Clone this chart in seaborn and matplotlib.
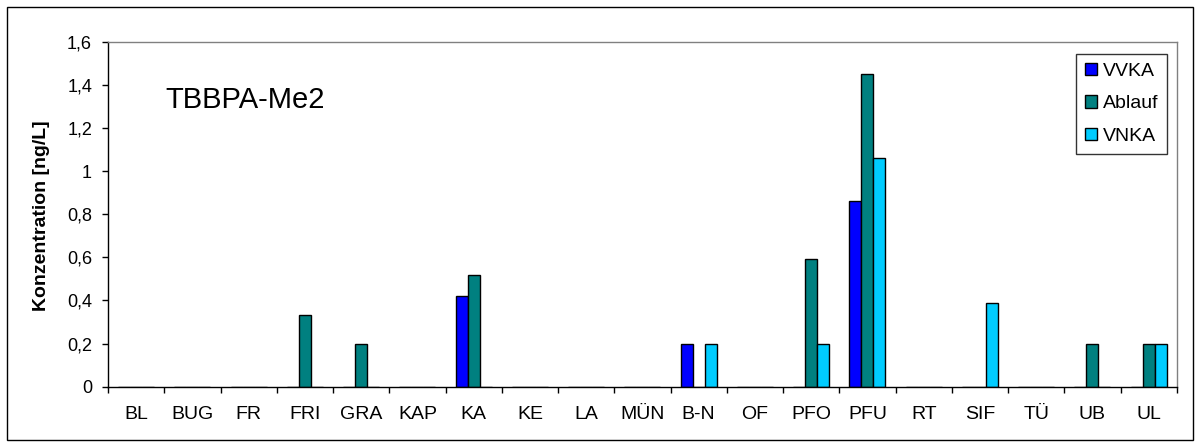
import numpy as np
import pandas as pd
import seaborn as sns
import matplotlib.pyplot as plt
from matplotlib.patches import Rectangle

# values, ng/L
stations = ["BL", "BUG", "FR", "FRI", "GRA", "KAP", "KA", "KE", "LA", "MÜN",
            "B-N", "OF", "PFO", "PFU", "RT", "SIF", "TÜ", "UB", "UL"]
vvka = [0, 0, 0, 0, 0, 0, 0.42, 0, 0, 0, 0.20, 0, 0, 0.86, 0, 0, 0, 0, 0]
ablauf = [0, 0, 0, 0.33, 0.20, 0, 0.52, 0, 0, 0, 0, 0, 0.59, 1.45, 0, 0, 0, 0.20, 0.20]
vnka = [0, 0, 0, 0, 0, 0, 0, 0, 0, 0, 0.20, 0, 0.20, 1.06, 0, 0.39, 0, 0, 0.20]
series = ["VVKA", "Ablauf", "VNKA"]
colors = ["#0000FF", "#008080", "#00CCFF"]

df = pd.DataFrame({"VVKA": vvka, "Ablauf": ablauf, "VNKA": vnka}, index=stations)
df = df.reset_index().melt(id_vars="index", var_name="serie", value_name="wert")
df = df.rename(columns={"index": "station"})

sns.set_style("white")
plt.rcParams['font.family'] = ['Liberation Sans', 'DejaVu Sans']
plt.rcParams.update({"text.color": "black", "axes.labelcolor": "black",
                     "xtick.color": "black", "ytick.color": "black"})

fig = plt.figure(figsize=(11.96, 4.48), dpi=100)
ax = fig.add_axes([0.0903, 0.137, 0.8937, 0.770])

sns.barplot(data=df, x="station", y="wert", hue="serie", hue_order=series,
            order=stations, palette=colors, width=0.64, errorbar=None,
            edgecolor="black", linewidth=1.0, saturation=1, ax=ax)

ax.set_ylim(0, 1.6)
ax.set_xlim(-0.5, len(stations) - 0.5)
yt = np.arange(0, 1.61, 0.2)
ax.set_yticks(yt)
ax.set_yticklabels(["0" if v == 0 else ("1" if abs(v - 1) < 1e-9 else f"{v:.1f}".replace(".", ",")) for v in yt])
ax.tick_params(axis="y", direction="out", length=4.5, width=1, pad=7, labelsize=13,
               left=True, colors="black")
ax.set_xticks(np.arange(len(stations)))
ax.set_xticklabels(stations)
ax.tick_params(axis="x", which="major", length=0, pad=14, labelsize=14, colors="black")
ax.set_xticks(np.arange(-0.5, len(stations), 1.0), minor=True)
ax.tick_params(axis="x", which="minor", direction="out", length=4.5, width=1,
               bottom=True, colors="black")

ax.set_xlabel("")
ax.set_ylabel("Konzentration [ng/L]", fontsize=14, fontweight="bold", color="black")
ax.yaxis.set_label_coords(-0.054, 0.495)

for s in ["left", "bottom"]:
    ax.spines[s].set_color("black")
    ax.spines[s].set_linewidth(1.0)
for s in ["top", "right"]:
    ax.spines[s].set_color("#808080")
    ax.spines[s].set_linewidth(1.0)

ax.text(0.0533, 0.808, "TBBPA-Me2", transform=ax.transAxes, fontsize=21,
        va="baseline", color="black")

leg = ax.legend(loc="upper right", bbox_to_anchor=(0.9906, 0.964), frameon=True,
                fancybox=False, edgecolor="black", fontsize=14,
                handlelength=0.6, handleheight=0.6, handletextpad=0.3,
                labelspacing=0.8, borderpad=0.45, borderaxespad=0)
leg.get_frame().set_linewidth(1.0)
for t in leg.get_texts():
    t.set_color("black")

fig.patches.append(Rectangle((7 / 1196, 8 / 448), 1186 / 1196, 433 / 448,
                             transform=fig.transFigure, fill=False,
                             edgecolor="black", linewidth=1.0))

fig.savefig("out.png", dpi=100)
